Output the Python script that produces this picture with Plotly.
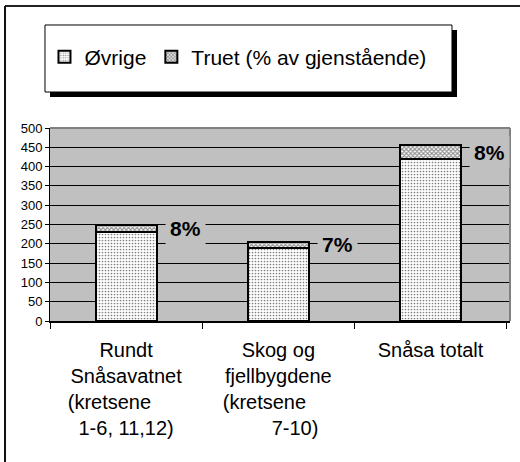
import plotly.graph_objects as go

# Number of localities per area: threatened share vs. the rest
categories = ["Rundt Snåsavatnet", "Skog og fjellbygdene", "Snåsa totalt"]
tick_labels = [
    "Rundt<br>Snåsavatnet<br>(kretsene\u00a0\u00a0\u00a0\u00a0\u00a0\u00a0<br>1-6, 11,12)",
    "Skog og<br>fjellbygdene<br>(kretsene\u00a0\u00a0\u00a0\u00a0\u00a0<br>\u00a0\u00a0\u00a0\u00a0\u00a0\u00a07-10)",
    "Snåsa totalt<br> <br> <br> ",
]
ovrige = [230, 190, 420]
truet = [20, 15, 35]
y_ticks = list(range(0, 501, 50))

FONT = "Liberation Sans, Arial, sans-serif"
PLOT_BG = "#C0C0C0"

fig = go.Figure()
fig.add_trace(go.Bar(
    x=categories, y=ovrige, name="Øvrige", width=0.4,
    marker=dict(color="white",
                line=dict(color="black", width=2),
                pattern=dict(shape=".", fgcolor="black", bgcolor="white",
                             size=3, solidity=0.25)),
))
fig.add_trace(go.Bar(
    x=categories, y=truet, name="Truet (% av gjenstående)", width=0.4,
    marker=dict(color="white",
                line=dict(color="black", width=2),
                pattern=dict(shape="x", fgcolor="#222222", bgcolor="white",
                             size=3, solidity=0.6)),
))

# Percentage labels to the right of each threatened segment
for i, (o, t) in enumerate(zip(ovrige, truet)):
    pct = round(100 * t / (o + t))
    fig.add_annotation(
        x=i + 0.2, y=o + t / 2, xref="x", yref="y",
        text=f"<b>{pct}%</b>", showarrow=False,
        xanchor="left", yanchor="middle", xshift=8,
        font=dict(family=FONT, size=21, color="black"),
        bgcolor=PLOT_BG, borderpad=4,
    )

# Chart frame, legend box with drop shadow, plot-area border
shapes = [
    dict(type="line", xref="paper", yref="paper", x0=-0.0978, x1=1.03, y0=1.632, y1=1.632,
         line=dict(color="#222222", width=2)),
    dict(type="line", xref="paper", yref="paper", x0=-0.0978, x1=-0.0978, y0=1.632, y1=-0.75,
         line=dict(color="#111111", width=2)),
    dict(type="rect", xref="paper", yref="paper", x0=0.0, x1=0.8848, y0=1.1606, y1=1.5078,
         fillcolor="black", line=dict(width=0), layer="below"),
    dict(type="rect", xref="paper", yref="paper", x0=-0.01087, x1=0.8739, y0=1.1865, y1=1.5337,
         fillcolor="white", line=dict(color="black", width=1), layer="below"),
    dict(type="line", xref="paper", yref="paper", x0=0, x1=1, y0=1, y1=1,
         line=dict(color="#808080", width=2)),
    dict(type="line", xref="paper", yref="paper", x0=1, x1=1, y0=1, y1=0,
         line=dict(color="#808080", width=2)),
]

fig.update_layout(
    width=520, height=462,
    margin=dict(l=50, r=10, t=128, b=141),
    barmode="stack",
    plot_bgcolor=PLOT_BG, paper_bgcolor="white",
    font=dict(family=FONT, color="black"),
    shapes=shapes,
    showlegend=True,
    legend=dict(orientation="h", x=-0.012, y=1.368, xanchor="left", yanchor="middle",
                bgcolor="rgba(0,0,0,0)", borderwidth=0,
                font=dict(family=FONT, size=21, color="black"),
                traceorder="normal", itemclick=False),
)
fig.update_xaxes(
    tickmode="array", tickvals=categories, ticktext=tick_labels,
    tickfont=dict(family=FONT, size=20, color="black"),
    showline=True, linecolor="black", linewidth=1.5,
    ticks="outside", tickson="boundaries", ticklen=6, tickcolor="black",
    ticklabelstandoff=10,
    showgrid=False,
)
fig.update_yaxes(
    range=[0, 500], tickvals=y_ticks,
    tickfont=dict(family=FONT, size=13, color="black"),
    showline=True, linecolor="black", linewidth=1,
    ticks="outside", ticklen=4, tickcolor="black",
    showgrid=True, gridcolor="black", gridwidth=1,
    zeroline=False,
)

fig.write_html("out.html")
